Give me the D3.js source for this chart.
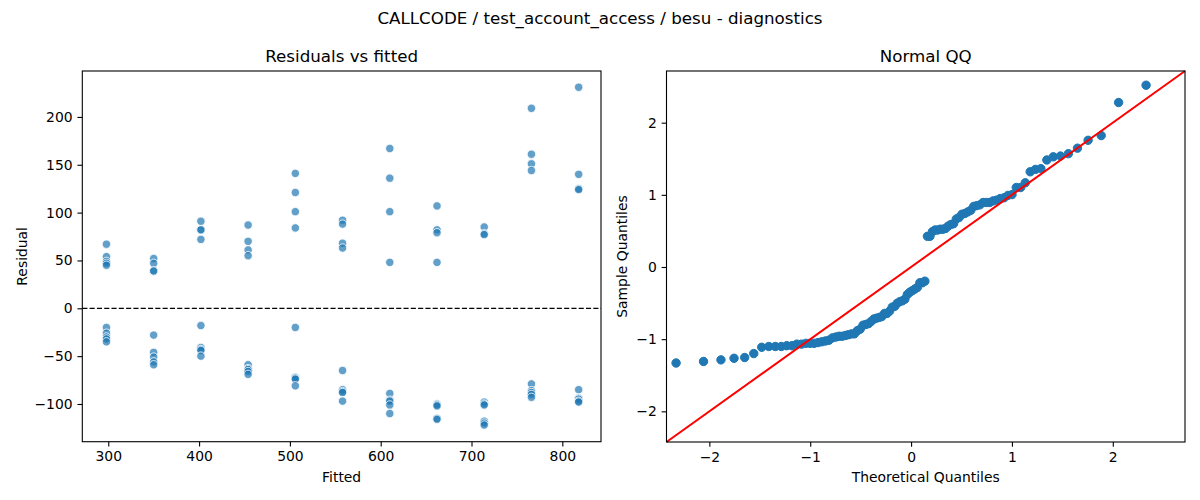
<!DOCTYPE html>
<html>
<head>
<meta charset="utf-8">
<script src="https://cdn.jsdelivr.net/npm/d3@7"></script>
<style>
body { margin: 0; background: #fff; }
svg text { font-family: "DejaVu Sans", sans-serif; fill: #000; }
</style>
</head>
<body>
<div id="chart"></div>
<script>
// fitted levels (one column of points each)
var fitted = [298, 350, 402, 454, 506, 558, 610, 662, 714, 766, 818];

// residuals, one list per fitted level
var residuals = [
    [67, 54, 49, 47, 45, -20, -26, -30, -32, -35],
    [52, 47, 39, 39, -28, -46, -51, -56, -59],
    [91, 82, 82, 72, -18, -41, -43, -44, -50],
    [87, 70, 61, 55, -59, -63, -64, -66, -69],
    [141, 121, 101, 84, -20, -72, -73, -74, -81],
    [92, 88, 68, 63, -65, -85, -87, -88, -97],
    [167, 136, 101, 48, -89, -96, -97, -101, -110],
    [107, 82, 79, 48, -100, -101, -102, -115, -116],
    [85, 78, 77, -98, -100, -101, -118, -120, -122],
    [209, 161, 151, 144, -79, -86, -88, -90, -93],
    [231, 140, 125, 124, -85, -94, -95, -97, -98]
];

var fittedTicks = [300, 400, 500, 600, 700, 800];
var residTicks = [-100, -50, 0, 50, 100, 150, 200];
var qqTicks = [-2, -1, 0, 1, 2];

var suptitle = "CALLCODE / test_account_access / besu - diagnostics";

var W = 1200, H = 500;
var tickLen = 4.86, tickPad = 4.86;
var blue = "#1f77b4";

// inverse normal cdf (Acklam) for the theoretical quantiles
function normalPpf(p) {
    var a = [-3.969683028665376e+01, 2.209460984245205e+02, -2.759285104469687e+02, 1.383577518672690e+02, -3.066479806614716e+01, 2.506628277459239e+00];
    var b = [-5.447609879822406e+01, 1.615858368580409e+02, -1.556989798598866e+02, 6.680131188771972e+01, -1.328068155288572e+01];
    var c = [-7.784894002430293e-03, -3.223964580411365e-01, -2.400758277161838e+00, -2.549732539343734e+00, 4.374664141464968e+00, 2.938163982698783e+00];
    var d = [7.784695709041462e-03, 3.224671290700398e-01, 2.445134137142996e+00, 3.754408661907416e+00];
    var pl = 0.02425, q, r;
    if (p < pl) {
        q = Math.sqrt(-2 * Math.log(p));
        return (((((c[0]*q+c[1])*q+c[2])*q+c[3])*q+c[4])*q+c[5]) / ((((d[0]*q+d[1])*q+d[2])*q+d[3])*q+1);
    }
    if (p > 1 - pl) {
        q = Math.sqrt(-2 * Math.log(1 - p));
        return -(((((c[0]*q+c[1])*q+c[2])*q+c[3])*q+c[4])*q+c[5]) / ((((d[0]*q+d[1])*q+d[2])*q+d[3])*q+1);
    }
    q = p - 0.5; r = q * q;
    return (((((a[0]*r+a[1])*r+a[2])*r+a[3])*r+a[4])*r+a[5])*q / (((((b[0]*r+b[1])*r+b[2])*r+b[3])*r+b[4])*r+1);
}

var svg = d3.select("#chart").append("svg")
    .attr("width", W)
    .attr("height", H);

svg.append("text")
    .attr("x", 600)
    .attr("y", 24)
    .attr("text-anchor", "middle")
    .style("font-size", "16.7px")
    .text(suptitle);

function frame(box, title, xlabel, ylabel, ylabelX) {
    var g = svg.append("g").attr("transform", "translate(" + box.x0 + "," + box.y0 + ")");
    var w = box.x1 - box.x0, h = box.y1 - box.y0;
    svg.append("text")
        .attr("x", box.x0 + w / 2)
        .attr("y", box.y0 - 9)
        .attr("text-anchor", "middle")
        .style("font-size", "16.7px")
        .text(title);
    svg.append("text")
        .attr("x", box.x0 + w / 2)
        .attr("y", 482)
        .attr("text-anchor", "middle")
        .style("font-size", "13.9px")
        .text(xlabel);
    svg.append("text")
        .attr("transform", "translate(" + ylabelX + "," + (box.y0 + h / 2) + ") rotate(-90)")
        .attr("dy", "0.35em")
        .attr("text-anchor", "middle")
        .style("font-size", "13.9px")
        .text(ylabel);
    return {g: g, w: w, h: h};
}

function axes(p, x, y, xt, yt, fmt) {
    var xa = p.g.append("g")
        .attr("transform", "translate(0," + p.h + ")")
        .call(d3.axisBottom(x).tickValues(xt).tickFormat(fmt).tickSize(tickLen).tickPadding(tickPad).tickSizeOuter(0));
    var ya = p.g.append("g")
        .call(d3.axisLeft(y).tickValues(yt).tickFormat(fmt).tickSize(tickLen).tickPadding(tickPad).tickSizeOuter(0));
    [xa, ya].forEach(function(a) {
        a.select(".domain").remove();
        a.selectAll("line").attr("stroke", "#000").attr("stroke-width", 1.1);
        a.selectAll("text").style("font-size", "13.9px").style("font-family", "DejaVu Sans, sans-serif");
    });
    p.g.append("rect")
        .attr("width", p.w)
        .attr("height", p.h)
        .attr("fill", "none")
        .attr("stroke", "#000")
        .attr("stroke-width", 1.1);
}

// ---- residuals vs fitted
var left = frame({x0: 82.3, x1: 601, y0: 71, y1: 441.7}, "Residuals vs fitted", "Fitted", "Residual", 22);

var x1 = d3.scaleLinear().domain([271.4, 842.6]).range([0, left.w]);
var y1 = d3.scaleLinear().domain([-139.4, 248]).range([left.h, 0]);

var pts = [];
fitted.forEach(function(f, i) {
    residuals[i].forEach(function(r) { pts.push({f: f, r: r}); });
});

left.g.selectAll(".pt")
    .data(pts)
    .enter().append("circle")
    .attr("class", "pt")
    .attr("cx", function(d) { return x1(d.f); })
    .attr("cy", function(d) { return y1(d.r); })
    .attr("r", 4.2)
    .attr("fill", blue)
    .attr("fill-opacity", 0.7)
    .attr("stroke", "#fff")
    .attr("stroke-width", 0.8);

left.g.append("line")
    .attr("x1", 0)
    .attr("x2", left.w)
    .attr("y1", y1(0))
    .attr("y2", y1(0))
    .attr("stroke", "#000")
    .attr("stroke-width", 1.3)
    .attr("stroke-dasharray", "5.1,2.2");

axes(left, x1, y1, fittedTicks, residTicks, d3.format("d"));

// ---- normal QQ of the standardised residuals
var right = frame({x0: 666.5, x1: 1185, y0: 71, y1: 442}, "Normal QQ", "Theoretical Quantiles", "Sample Quantiles", 622);

var all = [].concat.apply([], residuals);
var n = all.length;
var scale = Math.sqrt(d3.sum(all, function(r) { return r * r; }) / (n - 1));
var sample = all.map(function(r) { return r / scale; }).sort(d3.ascending);
var qq = sample.map(function(s, i) { return {t: normalPpf((i + 1) / (n + 1)), s: s}; });

var lim = [-2.425, 2.716];
var x2 = d3.scaleLinear().domain(lim).range([0, right.w]);
var y2 = d3.scaleLinear().domain(lim).range([right.h, 0]);

right.g.selectAll(".qq")
    .data(qq)
    .enter().append("circle")
    .attr("class", "qq")
    .attr("cx", function(d) { return x2(d.t); })
    .attr("cy", function(d) { return y2(d.s); })
    .attr("r", 4.2)
    .attr("fill", blue)
    .attr("stroke", blue)
    .attr("stroke-width", 1);

right.g.append("line")
    .attr("x1", x2(lim[0]))
    .attr("y1", y2(lim[0]))
    .attr("x2", x2(lim[1]))
    .attr("y2", y2(lim[1]))
    .attr("stroke", "red")
    .attr("stroke-width", 2);

axes(right, x2, y2, qqTicks, qqTicks, d3.format("d"));
</script>
</body>
</html>
